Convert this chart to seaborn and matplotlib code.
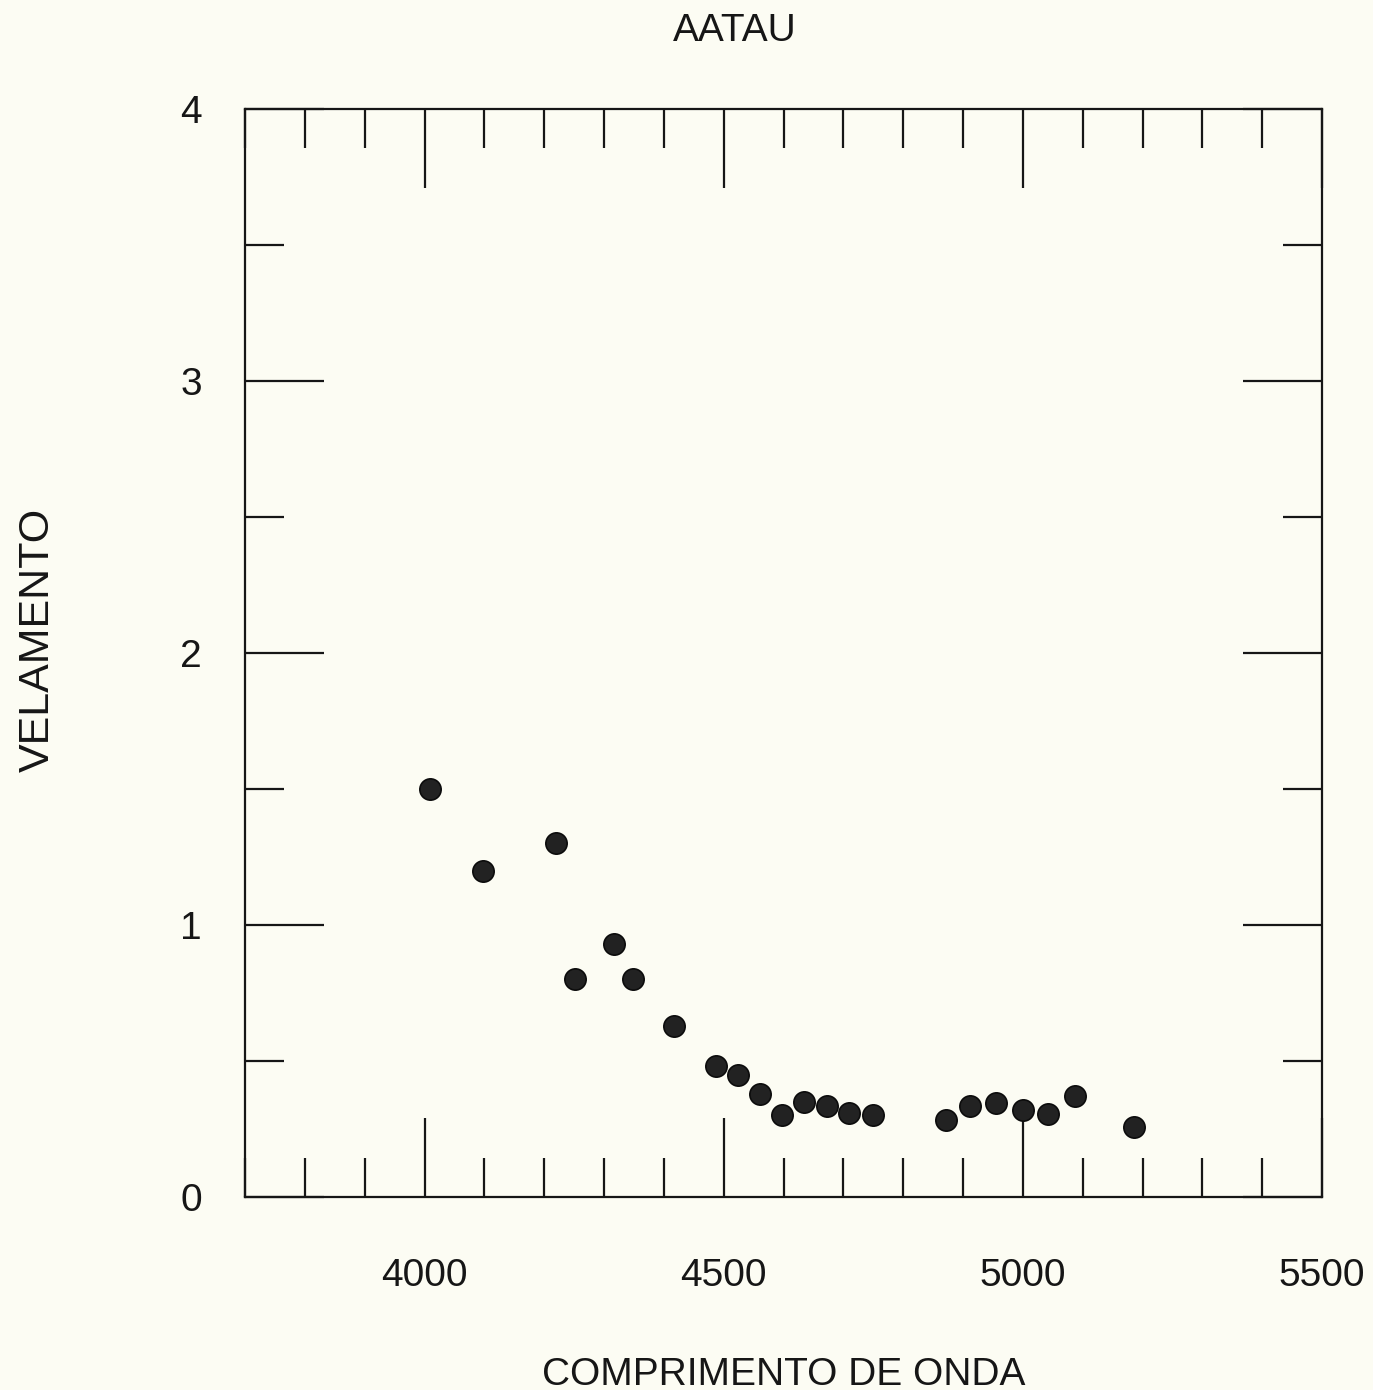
import matplotlib
matplotlib.use("Agg")
import matplotlib.pyplot as plt
import seaborn as sns
import pandas as pd
from matplotlib.ticker import MultipleLocator, FixedLocator

# ---- data ----
wavelength = [4010, 4098, 4220, 4252, 4317, 4349, 4417, 4487, 4524, 4560, 4597,
              4634, 4672, 4710, 4749, 4871, 4912, 4955, 5000, 5042, 5088, 5186]
velamento = [1.50, 1.20, 1.30, 0.80, 0.93, 0.80, 0.63, 0.48, 0.45, 0.38, 0.30,
             0.35, 0.335, 0.31, 0.30, 0.283, 0.335, 0.345, 0.32, 0.305, 0.37, 0.256]
x_major_ticks = [4000, 4500, 5000, 5500]
y_major_ticks = [0, 1, 2, 3, 4]
title = "AATAU"
xlabel = "COMPRIMENTO DE ONDA"
ylabel = "VELAMENTO"

df = pd.DataFrame({"wavelength": wavelength, "velamento": velamento})

sns.set_style("ticks")
plt.rcParams["font.family"] = ["Liberation Sans", "DejaVu Sans"]

bg = "#fcfcf3"
ink = "#161616"

fig = plt.figure(figsize=(13.73, 13.90), dpi=100, facecolor=bg)
ax = fig.add_axes([245 / 1373, 1 - 1197 / 1390, (1322 - 245) / 1373, (1197 - 109) / 1390])
ax.set_facecolor(bg)

sns.scatterplot(data=df, x="wavelength", y="velamento", ax=ax, s=235,
                color="#222222", edgecolor="#0c0c0c", linewidth=1.2, legend=False)

ax.set_xlim(3700, 5500)
ax.set_ylim(0, 4)
ax.xaxis.set_major_locator(FixedLocator(x_major_ticks))
ax.xaxis.set_minor_locator(MultipleLocator(100))
ax.yaxis.set_major_locator(FixedLocator(y_major_ticks))
ax.yaxis.set_minor_locator(MultipleLocator(0.5))

for side in ["left", "right", "top", "bottom"]:
    ax.spines[side].set_visible(True)
    ax.spines[side].set_color(ink)
    ax.spines[side].set_linewidth(1.6)

ax.tick_params(axis="both", which="both", direction="in", top=True, right=True,
               color=ink, width=1.6)
ax.tick_params(axis="both", which="major", length=57)
ax.tick_params(axis="both", which="minor", length=28)
ax.tick_params(axis="x", which="major", labelsize=28, pad=44, labelcolor=ink)
ax.tick_params(axis="y", which="major", labelsize=28, pad=31, labelcolor=ink)

ax.set_title(title, fontsize=28, pad=49, color=ink, x=0.455)
ax.set_xlabel(xlabel, fontsize=28, labelpad=45, color=ink)
ax.set_ylabel(ylabel, fontsize=31, labelpad=88, color=ink, y=0.512)

fig.savefig("out.png", dpi=100, facecolor=bg)
